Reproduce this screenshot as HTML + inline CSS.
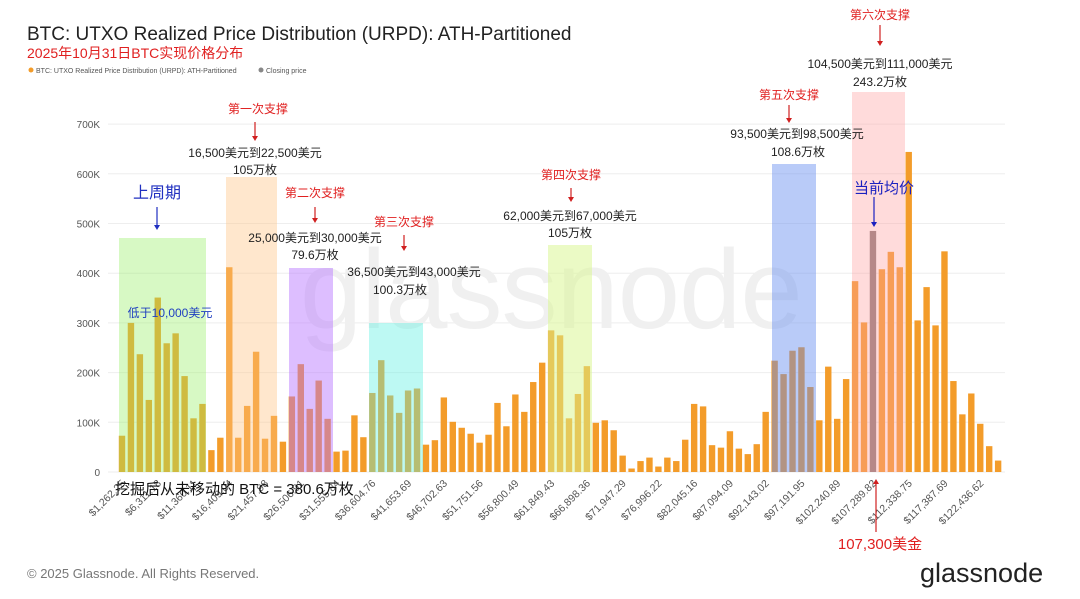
<!DOCTYPE html>
<html><head><meta charset="utf-8">
<style>
body{margin:0;background:#fff;}
svg{display:block;font-family:"Liberation Sans","Noto Sans CJK SC",sans-serif;}
</style></head>
<body>
<svg id="s" width="1080" height="599" xmlns="http://www.w3.org/2000/svg">
<rect width="1080" height="599" fill="#fff"/>
<text x="27" y="40" font-size="19" fill="#222">BTC: UTXO Realized Price Distribution (URPD): ATH-Partitioned</text>
<text x="27" y="58" font-size="14" fill="#e02020">2025年10月31日BTC实现价格分布</text>
<circle cx="31" cy="70" r="2.5" fill="#f39c2a"/>
<text x="36" y="73" font-size="7" fill="#555">BTC: UTXO Realized Price Distribution (URPD): ATH-Partitioned</text>
<circle cx="261" cy="70" r="2.5" fill="#888"/>
<text x="266" y="73" font-size="7" fill="#555">Closing price</text>
<g id="grid"></g>
<text x="300" y="328" font-size="112" fill="#f0f0f0" letter-spacing="-1">glassnode</text>
<g id="bars"></g>
<g id="regions">
<rect x="119" y="238" width="87" height="234" fill="rgba(150,240,100,0.38)"/>
<rect x="226" y="177" width="51" height="295" fill="rgba(255,195,130,0.4)"/>
<rect x="289" y="268" width="44" height="204" fill="rgba(180,110,255,0.45)"/>
<rect x="369" y="323" width="54" height="149" fill="rgba(90,240,225,0.4)"/>
<rect x="548" y="245" width="44" height="227" fill="rgba(215,245,140,0.5)"/>
<rect x="772" y="164" width="44" height="308" fill="rgba(100,140,240,0.45)"/>
<rect x="852" y="92" width="53" height="380" fill="rgba(255,160,160,0.38)"/>
</g>
<g id="xl" font-size="10.5" fill="#555"></g>
<g font-size="12" fill="#222" text-anchor="middle">
<text x="258" y="113" fill="#e02020">第一次支撑</text>
<text x="255" y="157">16,500美元到22,500美元</text><text x="255" y="174">105万枚</text>
<text x="157" y="198" fill="#2030c0" font-size="16">上周期</text>
<text x="315" y="197" fill="#e02020">第二次支撑</text>
<text x="315" y="242">25,000美元到30,000美元</text><text x="315" y="259">79.6万枚</text>
<text x="404" y="226" fill="#e02020">第三次支撑</text>
<text x="414" y="276">36,500美元到43,000美元</text><text x="400" y="294">100.3万枚</text>
<text x="170" y="317" fill="#2040c0">低于10,000美元</text>
<text x="571" y="179" fill="#e02020">第四次支撑</text>
<text x="570" y="220">62,000美元到67,000美元</text><text x="570" y="237">105万枚</text>
<text x="789" y="99" fill="#e02020">第五次支撑</text>
<text x="797" y="138">93,500美元到98,500美元</text><text x="798" y="156">108.6万枚</text>
<text x="880" y="19" fill="#e02020">第六次支撑</text>
<text x="880" y="68">104,500美元到111,000美元</text><text x="880" y="86">243.2万枚</text>
<text x="884" y="193" fill="#1a20c0" font-size="15">当前均价</text>
<text x="880" y="549" fill="#e02020" font-size="15">107,300美金</text>
</g>
<g stroke-width="1.2">
<path d="M255 122V138" stroke="#d02020"/><path d="M252 136L255 141L258 136Z" fill="#d02020"/>
<path d="M157 207V227" stroke="#2030c0"/><path d="M154 225L157 230L160 225Z" fill="#2030c0"/>
<path d="M315 207V220" stroke="#d02020"/><path d="M312 218L315 223L318 218Z" fill="#d02020"/>
<path d="M404 235V248" stroke="#d02020"/><path d="M401 246L404 251L407 246Z" fill="#d02020"/>
<path d="M571 188V199" stroke="#d02020"/><path d="M568 197L571 202L574 197Z" fill="#d02020"/>
<path d="M789 105V120" stroke="#d02020"/><path d="M786 118L789 123L792 118Z" fill="#d02020"/>
<path d="M880 25V43" stroke="#d02020"/><path d="M877 41L880 46L883 41Z" fill="#d02020"/>
<path d="M874 197V224" stroke="#1a20c0"/><path d="M871 222L874 227L877 222Z" fill="#1a20c0"/>
<path d="M876 532V482" stroke="#d02020"/><path d="M873 484L876 479L879 484Z" fill="#d02020"/>
</g>
<text x="115" y="494" font-size="15" fill="#111">挖掘后从未移动的 BTC = 380.6万枚</text>
<text x="27" y="578" font-size="13" fill="#777">© 2025 Glassnode. All Rights Reserved.</text>
<text x="920" y="582" font-size="27" fill="#222">glassnode</text>
</svg>
<script>
var v=[73,300,237,145,351,259,279,193,108,137,44,69,412,69,133,242,67,113,61,152,217,127,184,107,41,43,114,70,159,225,154,119,164,168,
55,64,150,101,89,77,59,75,139,92,156,121,181,220,285,275,108,157,213,99,104,84,33,7,22,29,11,29,22,65,137,132,54,49,82,47,36,56,
121,224,197,244,251,171,104,212,107,187,384,301,485,408,443,412,644,305,372,295,444,183,116,158,97,52,23];
var L=["1,262.25","6,311.18","11,360.11","16,409.04","21,457.98","26,506.91","31,555.84","36,604.76","41,653.69","46,702.63","51,751.56","56,800.49","61,849.43","66,898.36","71,947.29","76,996.22","82,045.16","87,094.09","92,143.02","97,191.95","102,240.89","107,289.82","112,338.75","117,387.69","122,436.62"];
var NS="http://www.w3.org/2000/svg";
function el(t,a,p,txt){var e=document.createElementNS(NS,t);for(var k in a)e.setAttribute(k,a[k]);if(txt)e.textContent=txt;document.getElementById(p).appendChild(e);}
var y0=472,sc=0.497;
for(var i=0;i<=7;i++){var y=y0-i*100*sc;el('line',{x1:108,x2:1005,y1:y,y2:y,stroke:'#eee','stroke-width':1},'grid');
el('text',{x:100,y:y+4,'font-size':10,fill:'#555','text-anchor':'end'},'grid',i?i*100+'K':'0');}
for(var i=0;i<v.length;i++){var x=122+i*8.94;var h=v[i]*sc;
el('rect',{x:x-3.2,y:y0-h,width:6.4,height:h,fill:i==84?'#8a7a7a':'#f39c2a'},'bars');}
for(var k=0;k<L.length;k++){var x=122+4*k*8.94+4;
el('text',{x:x,y:484,'text-anchor':'end',transform:'rotate(-45 '+x+' 484)'},'xl','$'+L[k]);}
</script>
</body></html>
